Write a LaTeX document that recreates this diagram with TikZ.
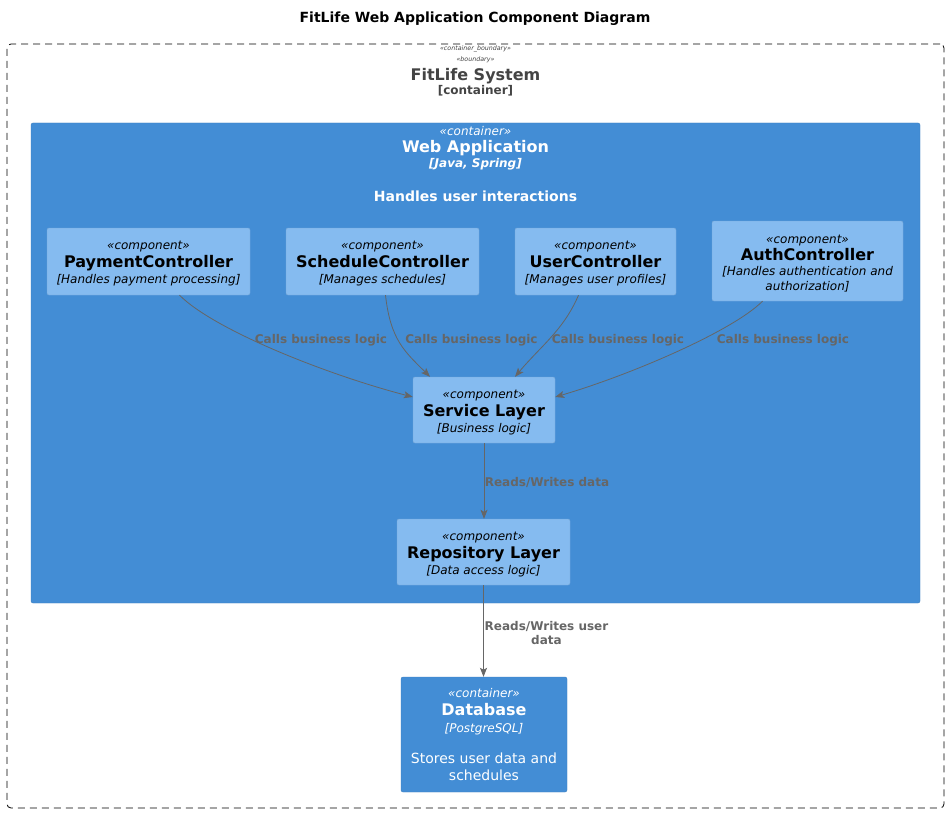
\documentclass[tikz,border=0pt]{standalone}
\usepackage{fontspec}
\setmainfont{DejaVu Sans}
\usetikzlibrary{arrows.meta}
\definecolor{contfill}{HTML}{438DD5}
\definecolor{contline}{HTML}{3C7FC0}
\definecolor{compfill}{HTML}{85BBF0}
\definecolor{compline}{HTML}{78A8D8}
\definecolor{edgegray}{HTML}{666666}
\definecolor{bndgray}{HTML}{444444}
\newcommand\fsz[2]{\fontsize{#1}{#2}\selectfont}
\newcommand\itl[1]{{\itshape #1}}
\newcommand\comptext[2]{{\rule{0pt}{13pt}\itshape «component»}\\[2pt]{\fsz{16}{17}\bfseries #1}\\#2}
\begin{document}
\begin{tikzpicture}[x=1pt,y=-1pt,
  comp/.style={draw=compline, fill=compfill, rounded corners=2pt, align=center, inner sep=0pt, text=black, font=\fsz{12}{16}},
  cont/.style={draw=contline, fill=contfill, rounded corners=2pt, inner sep=0pt},
  rel/.style={draw=edgegray, line width=0.8pt, -{Stealth[length=9pt,width=7pt,inset=2pt]}},
  rellabel/.style={text=edgegray, font=\fsz{12}{14}\bfseries, align=center, inner sep=0pt},
  wtext/.style={text=white, inner sep=0pt, align=center}]
\useasboundingbox[fill=white] (0,0) rectangle (949,813);

% title
\node[font=\fsz{14}{16}\bfseries, inner sep=0pt] (title) at (475,18.5) {FitLife Web Application Component Diagram};

% system boundary
\node[draw=black, dash pattern=on 7pt off 5pt, line width=0.8pt, rounded corners=4pt, minimum width=937pt, minimum height=764pt, inner sep=0pt] (sys) at (475.5,426) {};
\node[text=bndgray, font=\fsz{6.3}{7}\itshape, inner sep=0pt] (sst1) at (475.5,49) {«container\_boundary»};
\node[text=bndgray, font=\fsz{6.3}{7}\itshape, inner sep=0pt] (sst2) at (475.5,60) {«boundary»};
\node[text=bndgray, font=\fsz{16}{18}\bfseries, inner sep=0pt] (sname) at (475.5,76) {FitLife System};
\node[text=bndgray, font=\fsz{12}{14}\bfseries, inner sep=0pt] (stype) at (475.5,91) {[container]};

% web application container
\node[cont, minimum width=889pt, minimum height=480pt] (wa) at (475.5,363) {};
\node[wtext, font=\fsz{12}{14}\itshape] (wa1) at (475.5,131) {«container»};
\node[wtext, font=\fsz{16}{18}\bfseries] (wa2) at (475.5,148) {Web Application};
\node[wtext, font=\fsz{12}{14}\bfseries\itshape] (wa3) at (475.5,164) {[Java, Spring]};
\node[wtext, font=\fsz{14}{16}\bfseries] (wa4) at (475.5,196) {Handles user interactions};

% components
\node[comp, minimum width=203pt, minimum height=67pt] (pay) at (148.5,261.5) {\comptext{PaymentController}{\itl{[Handles payment processing]}}};
\node[comp, minimum width=193pt, minimum height=67pt] (sch) at (382.5,261.5) {\comptext{ScheduleController}{\itl{[Manages schedules]}}};
\node[comp, minimum width=161pt, minimum height=67pt] (usr) at (595.5,261.5) {\comptext{UserController}{\itl{[Manages user profiles]}}};
\node[comp, minimum width=191pt, minimum height=80pt, font=\fsz{12}{15}] (auth) at (807.5,261) {\comptext{AuthController}{\itl{[Handles authentication and}\\\itl{authorization]}}};
\node[comp, minimum width=142pt, minimum height=66pt] (svc) at (484,410) {\comptext{Service Layer}{\itl{[Business logic]}}};
\node[comp, minimum width=173pt, minimum height=66pt] (repo) at (483.5,552) {\comptext{Repository Layer}{\itl{[Data access logic]}}};

% database
\node[cont, minimum width=166pt, minimum height=115pt, text=white, align=center, font=\fsz{12}{17}] (db) at (484,734.5)
  {\itl{«container»}\\[1pt]{\fsz{16}{17}\bfseries Database}\\\itl{[PostgreSQL]}\\[14pt]{\fsz{14}{15}Stores user data and}\\{\fsz{14}{15}schedules}};

% relations
\draw[rel] ([xshift=31pt]pay.south) .. controls +(35,35) and +(-85,-22) .. ([yshift=13pt]svc.west);
\draw[rel] ([xshift=3pt]sch.south) .. controls +(5,45) and +(-25,-25) .. ([xshift=-54pt]svc.north);
\draw[rel] ([xshift=-17pt]usr.south) .. controls +(-15,35) and +(25,-30) .. ([xshift=31pt]svc.north);
\draw[rel] ([xshift=-45pt]auth.south) .. controls +(-30,30) and +(75,-22) .. ([yshift=13pt]svc.east);
\draw[rel] (svc.south) -- (svc.south |- repo.north);
\draw[rel] (repo.south) -- (repo.south |- db.north);

\node[rellabel] (l1) at (321,340) {Calls business logic};
\node[rellabel] (l2) at (471.5,340) {Calls business logic};
\node[rellabel] (l3) at (618,340) {Calls business logic};
\node[rellabel] (l4) at (783,340) {Calls business logic};
\node[rellabel] (l5) at (547,482) {Reads/Writes data};
\node[rellabel] (l6) at (546.5,633) {Reads/Writes user\\data};
\end{tikzpicture}
\end{document}
